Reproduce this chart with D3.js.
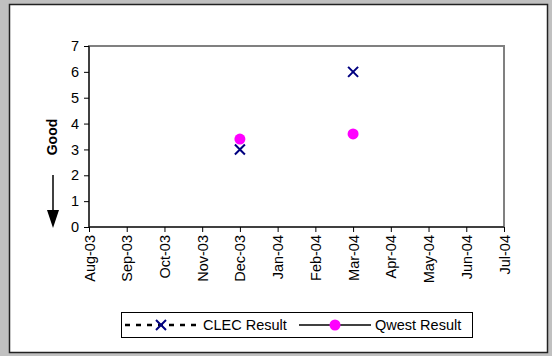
<!DOCTYPE html>
<html lang="en">
<head>
	<meta charset="UTF-8">
	<title>CLEC vs Qwest</title>
	<script src="https://cdnjs.cloudflare.com/ajax/libs/d3/7.8.5/d3.min.js"></script>
	<style>
		body { margin: 0; background: #c0c0c0; }
		svg { display: block; font-family: "Liberation Sans", Arial, sans-serif; }
	</style>
</head>
<body>
	<svg id="svg"></svg>
	<script>
		// data
		var months = ["Aug-03","Sep-03","Oct-03","Nov-03","Dec-03","Jan-04","Feb-04","Mar-04","Apr-04","May-04","Jun-04","Jul-04"];
		var clecMonths = ["Dec-03","Mar-04"];
		var clecValues = [3, 6];
		var qwestMonths = ["Dec-03","Mar-04"];
		var qwestValues = [3.4, 3.6];
		var yTicks = [0,1,2,3,4,5,6,7];

		var w = 552, h = 356,
			svg = d3.select("#svg").attr("width", w).attr("height", h);

		// chart area frame
		svg.append("rect").attr("x", 9.5).attr("y", 4.5).attr("width", 538).attr("height", 348)
			.attr("fill", "#fff").attr("stroke", "#222").attr("stroke-width", 1.5);

		var pLeft = 89, pRight = 504, pTop = 46, pBottom = 227;

		var x = d3.scalePoint().domain(months).range([pLeft, pRight]);
		var y = d3.scaleLinear().domain([0, 7]).range([pBottom, pTop]);

		// plot border (gray top/right)
		svg.append("rect").attr("x", pLeft).attr("y", pTop)
			.attr("width", pRight - pLeft).attr("height", pBottom - pTop)
			.attr("fill", "none").attr("stroke", "#808080").attr("stroke-width", 2);

		var yAxis = svg.append("g").attr("transform", "translate(" + pLeft + ",0)")
			.call(d3.axisLeft(y).tickValues(yTicks).tickSize(5).tickPadding(5).tickFormat(d3.format("d")));
		var xAxis = svg.append("g").attr("transform", "translate(0," + pBottom + ")")
			.call(d3.axisBottom(x).tickSize(5).tickPadding(4));

		[yAxis, xAxis].forEach(function(a) {
			a.select(".domain").attr("stroke", "#000").attr("stroke-width", 1);
			a.selectAll(".tick line").attr("stroke", "#000");
			a.selectAll("text").attr("fill", "#000").style("font-size", "14.5px").style("font-family", "Liberation Sans, Arial, sans-serif");
		});
		yAxis.select(".domain").attr("d", "M0," + pBottom + "V" + pTop);
		xAxis.select(".domain").attr("d", "M" + pLeft + ",0H" + pRight);

		xAxis.selectAll("text")
			.attr("transform", "rotate(-90)")
			.attr("text-anchor", "end")
			.attr("dy", "0.35em")
			.attr("x", -8)
			.attr("y", 0);

		// "Good" label and arrow
		svg.append("text").attr("transform", "translate(57,137) rotate(-90)")
			.attr("text-anchor", "middle").style("font-size", "14px").style("font-weight", "bold")
			.text("Good");
		svg.append("line").attr("x1", 53).attr("x2", 53).attr("y1", 175).attr("y2", 212)
			.attr("stroke", "#000").attr("stroke-width", 1.5);
		svg.append("path").attr("d", "M47,210L59,210L53,228Z").attr("fill", "#000");

		function cross(g, cx, cy, s) {
			g.append("path")
				.attr("d", "M" + (cx - s) + "," + (cy - s) + "L" + (cx + s) + "," + (cy + s) +
					"M" + (cx - s) + "," + (cy + s) + "L" + (cx + s) + "," + (cy - s))
				.attr("stroke", "#000080").attr("stroke-width", 2).attr("fill", "none");
		}

		var marks = svg.append("g");
		qwestValues.forEach(function(v, i) {
			marks.append("circle").attr("cx", x(qwestMonths[i])).attr("cy", y(v)).attr("r", 5.5)
				.attr("fill", "#ff00ff");
		});
		clecValues.forEach(function(v, i) {
			cross(marks, x(clecMonths[i]), y(v), 5);
		});

		// legend
		var lg = svg.append("g");
		lg.append("rect").attr("x", 121.5).attr("y", 312.5).attr("width", 351).attr("height", 25)
			.attr("fill", "#fff").attr("stroke", "#000").attr("stroke-width", 1);
		lg.append("line").attr("x1", 125).attr("x2", 199).attr("y1", 325).attr("y2", 325)
			.attr("stroke", "#000").attr("stroke-width", 2.5).attr("stroke-dasharray", "5,6");
		cross(lg, 161, 325, 5);
		lg.append("text").attr("x", 203).attr("y", 330).style("font-size", "14.5px").text("CLEC Result");
		lg.append("line").attr("x1", 299).attr("x2", 371).attr("y1", 325).attr("y2", 325)
			.attr("stroke", "#000").attr("stroke-width", 1.5);
		lg.append("circle").attr("cx", 335).attr("cy", 325).attr("r", 5.5).attr("fill", "#ff00ff");
		lg.append("text").attr("x", 375).attr("y", 330).style("font-size", "14.5px").text("Qwest Result");
	</script>
</body>
</html>
